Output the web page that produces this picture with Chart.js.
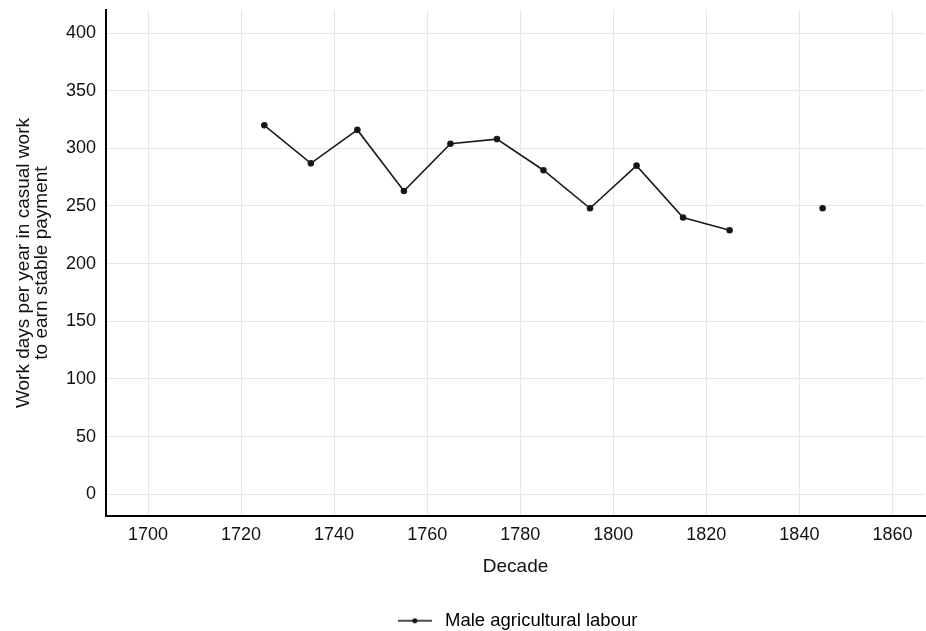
<!DOCTYPE html>
<html>
<head>
<meta charset="utf-8">
<script src="https://cdn.jsdelivr.net/npm/chart.js@4"></script>
<style>
  html, body { margin: 0; padding: 0; background: #fff; }
  #wrap { width: 926px; height: 631px; }
</style>
</head>
<body>
<div id="wrap"><canvas id="workChart"></canvas></div>
<script>
  // decades and estimated work days (1835 missing)
  const decades = [1725, 1735, 1745, 1755, 1765, 1775, 1785, 1795, 1805, 1815, 1825, 1835, 1845];
  const workDays = [320, 287, 316, 263, 304, 308, 281, 248, 285, 240, 229, null, 248];
  const xTicks = [1700, 1720, 1740, 1760, 1780, 1800, 1820, 1840, 1860];
  const yTicks = [0, 50, 100, 150, 200, 250, 300, 350, 400];
  const seriesLabel = "Male agricultural labour";

  // legend marker: line with a dot in the middle
  const marker = document.createElement("canvas");
  marker.width = 34;
  marker.height = 10;
  const mctx = marker.getContext("2d");
  mctx.strokeStyle = "#111";
  mctx.lineWidth = 1.5;
  mctx.beginPath();
  mctx.moveTo(0, 5);
  mctx.lineTo(34, 5);
  mctx.stroke();
  mctx.fillStyle = "#111";
  mctx.beginPath();
  mctx.arc(17, 5, 2.5, 0, Math.PI * 2);
  mctx.fill();

  Chart.defaults.font.family = "'Liberation Sans', Arial, sans-serif";
  Chart.defaults.color = "#111";

  // chart.js pads the area for edge labels; the reference does not
  const noEdgePad = (axis) => {
    axis.paddingTop = 0;
    axis.paddingBottom = 0;
    axis.paddingLeft = 0;
    axis.paddingRight = 0;
  };

  let workChart = new Chart(document.getElementById("workChart").getContext("2d"), {
    type: "line",
    data: {
      datasets: [
        {
          label: seriesLabel,
          data: decades.map((d, i) => ({ x: d, y: workDays[i] })),
          borderColor: "#1a1a1a",
          backgroundColor: "#111",
          borderWidth: 1.6,
          pointRadius: 2.5,
          pointHoverRadius: 3,
          spanGaps: false,
          tension: 0,
        },
      ],
    },
    options: {
      responsive: true,
      maintainAspectRatio: false,
      animation: false,
      layout: { autoPadding: false, padding: { top: 10, right: 1, left: 15, bottom: -9 } },
      plugins: {
        tooltip: { enabled: false },
        legend: {
          position: "bottom",
          fullSize: false,
          labels: {
            usePointStyle: true,
            pointStyleWidth: 42,
            font: { size: 18.5 },
            padding: 6,
            generateLabels: () => [
              { text: seriesLabel, pointStyle: marker, fillStyle: "#111", strokeStyle: "#111", lineWidth: 0, datasetIndex: 0 },
            ],
          },
        },
      },
      scales: {
        x: {
          type: "linear",
          min: 1691,
          max: 1867,
          border: { color: "#000", width: 2 },
          grid: { color: "#e6e6e6", drawTicks: false },
          ticks: { padding: 8, font: { size: 18 }, callback: (v) => String(v) },
          afterBuildTicks: (axis) => {
            axis.ticks = xTicks.map((v) => ({ value: v }));
          },
          afterFit: noEdgePad,
          title: {
            display: true,
            text: "Decade",
            font: { size: 19 },
            padding: { top: 2, bottom: 27 },
          },
        },
        y: {
          min: -19,
          max: 420,
          border: { color: "#000", width: 2 },
          grid: { color: "#e6e6e6", drawTicks: false },
          ticks: { padding: 10, font: { size: 18 } },
          afterBuildTicks: (axis) => {
            axis.ticks = yTicks.map((v) => ({ value: v }));
          },
          afterFit: noEdgePad,
          title: {
            display: true,
            text: ["Work days per year in casual work", "to earn stable payment"],
            font: { size: 19, lineHeight: 0.95 },
            padding: { top: 0, bottom: 5 },
          },
        },
      },
    },
  });
</script>
</body>
</html>
